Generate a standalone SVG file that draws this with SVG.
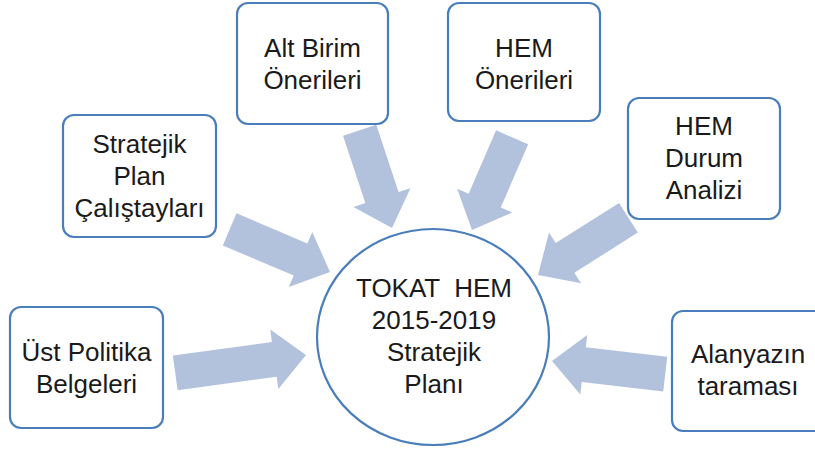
<svg xmlns="http://www.w3.org/2000/svg" width="815" height="450" viewBox="0 0 815 450">
<style>
.box{fill:#fff;stroke:#4a7ebb;stroke-width:2.2}
.arr{fill:#b3c2dc}
text{font-family:"Liberation Sans",Arial,sans-serif;font-size:26px;fill:#1a1a1a;text-anchor:middle}
</style>
<rect width="815" height="450" fill="#fff"/>
<g id="connectors">
<path class="arr" transform="translate(306,355) rotate(-7.8)" d="M-132,-17.5 L-32,-17.5 L-32,-30 L0,0 L-32,30 L-32,17.5 L-132,17.5 Z"/>
<path class="arr" transform="translate(330,272) rotate(23)" d="M-109,-17.5 L-32,-17.5 L-32,-30 L0,0 L-32,30 L-32,17.5 L-109,17.5 Z"/>
<path class="arr" transform="translate(392,228) rotate(71.7)" d="M-103,-17.5 L-32,-17.5 L-32,-30 L0,0 L-32,30 L-32,17.5 L-103,17.5 Z"/>
<path class="arr" transform="translate(472,230) rotate(113.4)" d="M-101,-17.5 L-32,-17.5 L-32,-30 L0,0 L-32,30 L-32,17.5 L-101,17.5 Z"/>
<path class="arr" transform="translate(538,275) rotate(147.7)" d="M-107,-17.5 L-32,-17.5 L-32,-30 L0,0 L-32,30 L-32,17.5 L-107,17.5 Z"/>
<path class="arr" transform="translate(552,361) rotate(186.6)" d="M-114,-17.5 L-32,-17.5 L-32,-30 L0,0 L-32,30 L-32,17.5 L-114,17.5 Z"/>
</g>
<g id="center">
<ellipse class="box" cx="433" cy="337" rx="116" ry="108"/>
<text x="434" y="297" xml:space="preserve" style="white-space:pre">TOKAT  HEM</text>
<text x="434" y="329">2015-2019</text>
<text x="434" y="361">Stratejik</text>
<text x="434" y="393">Planı</text>
</g>
<g id="ust-politika">
<rect class="box" x="10" y="307" width="153" height="121" rx="11"/>
<text x="86.5" y="361">Üst Politika</text>
<text x="86.5" y="393">Belgeleri</text>
</g>
<g id="stratejik-plan">
<rect class="box" x="63" y="115" width="153" height="122" rx="11"/>
<text x="139.5" y="153">Stratejik</text>
<text x="139.5" y="185">Plan</text>
<text x="139.5" y="217">Çalıştayları</text>
</g>
<g id="alt-birim">
<rect class="box" x="237" y="3" width="151" height="121" rx="11"/>
<text x="312.5" y="57">Alt Birim</text>
<text x="312.5" y="89">Önerileri</text>
</g>
<g id="hem-onerileri">
<rect class="box" x="448" y="3" width="152" height="118" rx="11"/>
<text x="524" y="57">HEM</text>
<text x="524" y="89">Önerileri</text>
</g>
<g id="hem-durum">
<rect class="box" x="628" y="98" width="152" height="121" rx="11"/>
<text x="704" y="135">HEM</text>
<text x="704" y="167">Durum</text>
<text x="704" y="199">Analizi</text>
</g>
<g id="alanyazin">
<rect class="box" x="672" y="311" width="160" height="120" rx="11"/>
<text x="748" y="363">Alanyazın</text>
<text x="748" y="395">taraması</text>
</g>
</svg>
